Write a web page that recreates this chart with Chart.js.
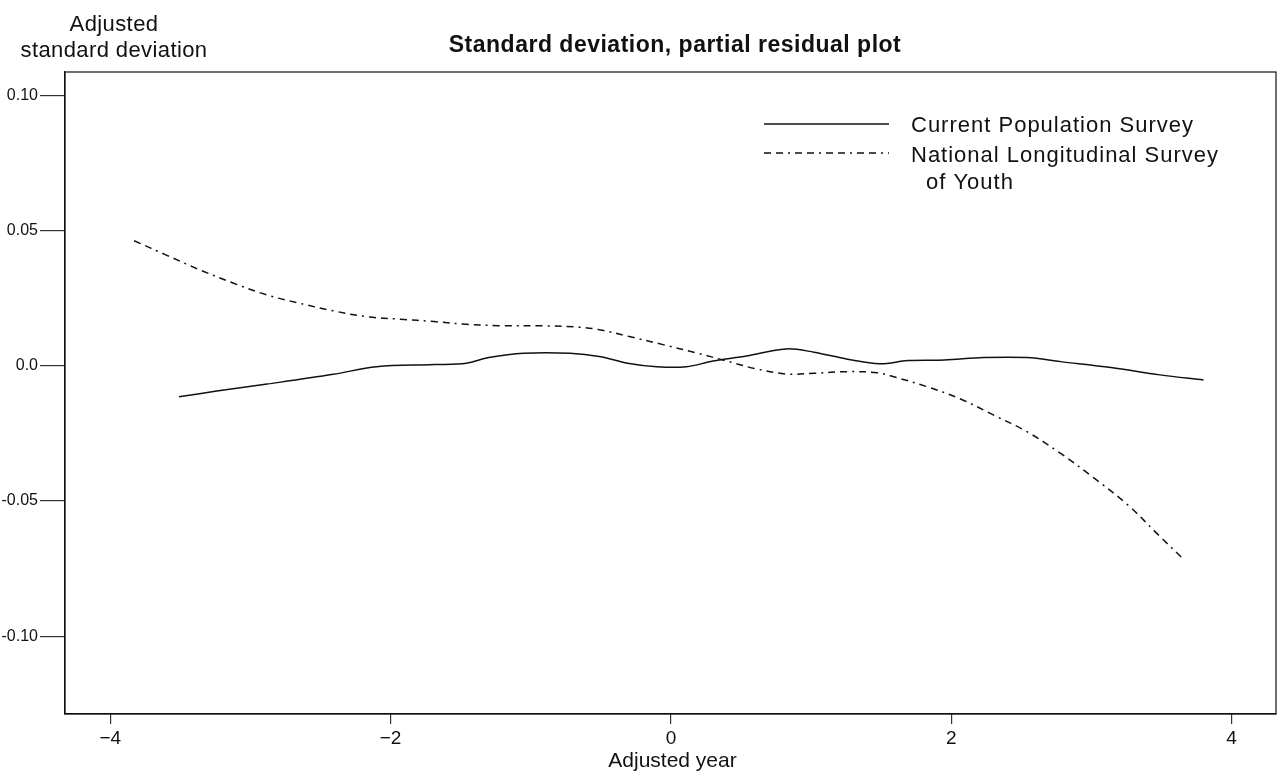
<!DOCTYPE html>
<html>
<head>
<meta charset="utf-8">
<title>Standard deviation, partial residual plot</title>
<script src="https://cdn.jsdelivr.net/npm/chart.js@4"></script>
<style>
  html, body { margin: 0; padding: 0; background: #fff; }
  #wrap { width: 1278px; height: 775px; }
</style>
</head>
<body>
<div id="wrap"><canvas id="chart-canvas"></canvas></div>
<script>
// Axis ticks
const xTicks = [-4, -2, 0, 2, 4];
const xTickLabels = ['\u22124', '\u22122', '0', '2', '4'];
const yTicks = [-0.10, -0.05, 0, 0.05, 0.10];
const yTickLabels = ['-0.10', '-0.05', '0.0', '0.05', '0.10'];

// Current Population Survey (solid)
const cpsYear = [-3.51, -3.24, -2.88, -2.41, -2.10, -1.69, -1.46, -1.30, -1.05, -0.72, -0.50, -0.31, -0.10, 0.11, 0.30, 0.54, 0.82, 1.02, 1.26, 1.49, 1.69, 1.95, 2.23, 2.54, 2.78, 3.14, 3.49, 3.80];
const cpsSd = [-0.0115, -0.0094, -0.0068, -0.0032, -0.0004, 0.0004, 0.0009, 0.0030, 0.0046, 0.0046, 0.0033, 0.0009, -0.0004, -0.0004, 0.0017, 0.0036, 0.0062, 0.0050, 0.0024, 0.0007, 0.0019, 0.0021, 0.0030, 0.0030, 0.0015, -0.0007, -0.0034, -0.0053];

// National Longitudinal Survey of Youth (dash-dot)
const nlsyYear = [-3.83, -3.60, -3.36, -3.12, -2.88, -2.65, -2.41, -2.17, -1.93, -1.69, -1.46, -1.23, -0.89, -0.65, -0.50, -0.29, -0.05, 0.19, 0.40, 0.61, 0.83, 1.02, 1.26, 1.47, 1.59, 1.83, 2.07, 2.30, 2.54, 2.78, 3.02, 3.26, 3.49, 3.65];
const nlsySd = [0.0462, 0.0409, 0.0354, 0.0305, 0.0261, 0.0231, 0.0203, 0.0181, 0.0172, 0.0163, 0.0153, 0.0148, 0.0147, 0.0142, 0.0132, 0.0107, 0.0077, 0.0046, 0.0017, -0.0012, -0.0031, -0.0028, -0.0022, -0.0026, -0.0041, -0.0078, -0.0124, -0.0182, -0.0244, -0.0324, -0.0416, -0.0515, -0.0632, -0.0712];

const FONT = "'Liberation Sans', Arial, Helvetica, sans-serif";
const INK = '#111';
const NLSY_DASH = [7, 5, 7, 5, 2, 5];

function toPoints(xs, ys) {
    return xs.map((x, i) => ({ x: x, y: ys[i] }));
}

// Frame, titles and the legend box are drawn on top of the chart
const decorations = {
    id: 'decorations',
    afterDraw(chart) {
        const ctx = chart.ctx;
        const area = chart.chartArea;
        ctx.save();

        // plot frame
        ctx.strokeStyle = INK;
        ctx.lineWidth = 1.2;
        ctx.strokeRect(area.left, area.top, area.right - area.left, area.bottom - area.top);

        ctx.fillStyle = INK;
        ctx.textAlign = 'center';
        ctx.textBaseline = 'alphabetic';

        // chart title
        ctx.font = 'bold 23px ' + FONT;
        ctx.letterSpacing = '0.5px';
        ctx.fillText('Standard deviation, partial residual plot', 675, 52);

        // y axis title, set above the axis
        ctx.font = '22px ' + FONT;
        ctx.letterSpacing = '0.4px';
        ctx.fillText('Adjusted', 114, 31);
        ctx.fillText('standard deviation', 114, 57);

        // x axis title
        ctx.font = '21px ' + FONT;
        ctx.letterSpacing = '0px';
        ctx.fillText('Adjusted year', (area.left + area.right) / 2 + 2, 767);

        // legend
        const ds = chart.data.datasets;
        ctx.textAlign = 'left';
        ctx.font = '22px ' + FONT;
        ctx.letterSpacing = '1px';
        ctx.lineWidth = 1.5;
        ctx.strokeStyle = INK;

        ctx.beginPath();
        ctx.moveTo(764, 124);
        ctx.lineTo(889, 124);
        ctx.stroke();
        ctx.fillText(ds[0].label, 911, 132);

        ctx.setLineDash(NLSY_DASH);
        ctx.beginPath();
        ctx.moveTo(764, 153);
        ctx.lineTo(889, 153);
        ctx.stroke();
        ctx.setLineDash([]);
        ctx.fillText(ds[1].label, 911, 162);
        ctx.fillText('of Youth', 926, 189);

        ctx.restore();
    }
};

const ctx = document.getElementById('chart-canvas').getContext('2d');
new Chart(ctx, {
    type: 'line',
    data: {
        datasets: [
            {
                label: 'Current Population Survey',
                data: toPoints(cpsYear, cpsSd),
                borderColor: INK,
                borderWidth: 1.5,
                pointRadius: 0,
                tension: 0.35,
                fill: false,
            },
            {
                label: 'National Longitudinal Survey',
                data: toPoints(nlsyYear, nlsySd),
                borderColor: INK,
                borderWidth: 1.5,
                borderDash: NLSY_DASH,
                pointRadius: 0,
                tension: 0.35,
                fill: false,
            },
        ],
    },
    options: {
        responsive: true,
        maintainAspectRatio: false,
        animation: false,
        layout: { padding: { top: 72, right: 2, left: 0, bottom: 0 } },
        plugins: {
            legend: { display: false },
            title: { display: false },
            tooltip: { enabled: false },
        },
        scales: {
            x: {
                type: 'linear',
                min: -4.323,
                max: 4.317,
                afterBuildTicks: (scale) => { scale.ticks = xTicks.map((v) => ({ value: v })); },
                afterFit: (scale) => { scale.height = 61; },
                ticks: {
                    callback: (value) => xTickLabels[xTicks.indexOf(value)],
                    color: INK,
                    font: { family: FONT, size: 19 },
                    padding: 3,
                    maxRotation: 0,
                },
                grid: { drawOnChartArea: false, drawTicks: true, tickLength: 10, color: '#333', lineWidth: 1.2 },
                border: { display: true, color: INK, width: 1.2 },
            },
            y: {
                type: 'linear',
                min: -0.1288,
                max: 0.1086,
                afterBuildTicks: (scale) => { scale.ticks = yTicks.map((v) => ({ value: v })); },
                afterFit: (scale) => { scale.width = 65; },
                ticks: {
                    callback: (value) => yTickLabels[yTicks.indexOf(value)],
                    color: INK,
                    font: { family: FONT, size: 16 },
                    padding: 2,
                },
                grid: { drawOnChartArea: false, drawTicks: true, tickLength: 25, color: '#333', lineWidth: 1.2 },
                border: { display: true, color: INK, width: 1.2 },
            },
        },
    },
    plugins: [decorations],
});
</script>
</body>
</html>
